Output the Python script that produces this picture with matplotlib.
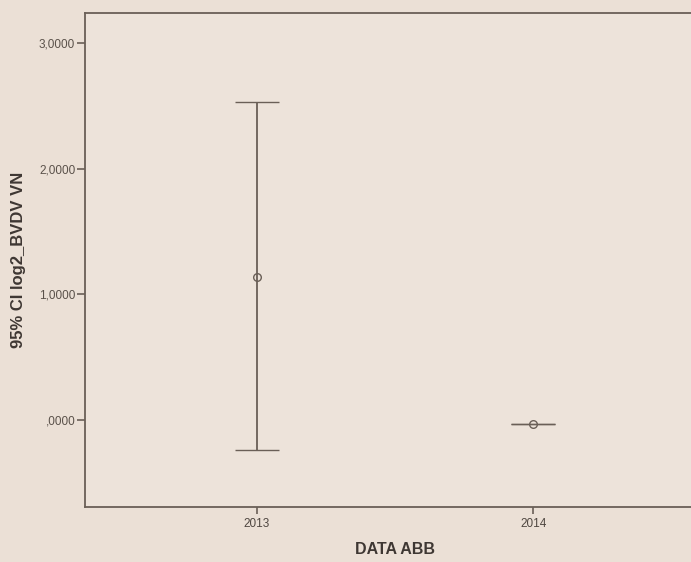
import matplotlib.pyplot as plt
import numpy as np

# SPSS-style error bar chart (95% CI)
years = ['2013', '2014']
means = [1.14, -0.03]
ci_lower = [-0.24, -0.031]
ci_upper = [2.535, -0.029]

y_ticks = [0.0, 1.0, 2.0, 3.0]
y_tick_labels = [',0000', '1,0000', '2,0000', '3,0000']

bg = '#ebe0d6'
ink = '#6a5f57'
family = ['Liberation Sans', 'DejaVu Sans']

fig = plt.figure(figsize=(6.91, 5.62), dpi=100, facecolor=bg)
ax = fig.add_axes([0.123, 0.098, 0.897, 0.879], facecolor='#ede3da')

x = np.arange(len(years))
lo = np.array(means) - np.array(ci_lower)
hi = np.array(ci_upper) - np.array(means)
ax.errorbar(x, means, yerr=[lo, hi], fmt='o', color=ink, mfc='none', mec=ink,
            ms=5.5, mew=1.0, elinewidth=1.3, capsize=15.5, capthick=1.3)

ax.set_xlim(-0.62, 1.62)
ax.set_ylim(-0.69, 3.24)
ax.set_xticks(x)
ax.set_xticklabels(years, fontsize=8.5, family=family, color='#4f4741')
ax.set_yticks(y_ticks)
ax.set_yticklabels(y_tick_labels, fontsize=8.5, family=family, color='#5a514a')
ax.tick_params(axis='both', direction='out', color=ink, width=1.2)
ax.tick_params(axis='y', length=6, pad=1)
ax.tick_params(axis='x', length=5, pad=3)

for side in ['left', 'bottom', 'top', 'right']:
    ax.spines[side].set_color(ink)
    ax.spines[side].set_linewidth(1.3)

ax.set_xlabel('DATA ABB', fontsize=11.5, fontweight='bold', family=family, color='#3e3733')
ax.xaxis.set_label_coords(0.5, -0.072)
ax.set_ylabel('95% CI log2_BVDV VN', fontsize=12, fontweight='bold', family=family, color='#3e3733')
ax.yaxis.set_label_coords(-0.095, 0.5)

plt.savefig('out.png', dpi=100, facecolor=bg)
